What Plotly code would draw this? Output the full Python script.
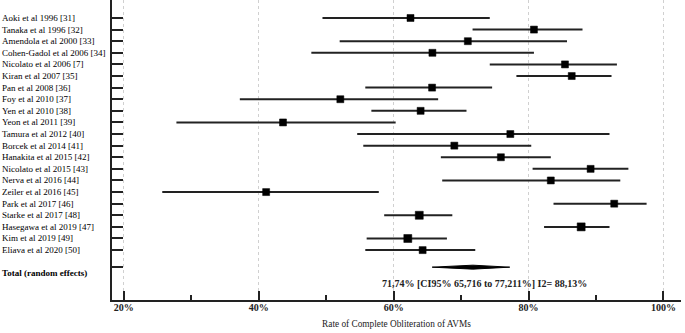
import plotly.graph_objects as go

studies = ["Aoki et al 1996 [31]", "Tanaka et al 1996 [32]", "Amendola et al 2000 [33]",
           "Cohen-Gadol et al 2006 [34]", "Nicolato et al 2006 [7]", "Kiran et al 2007 [35]",
           "Pan et al 2008 [36]", "Foy et al 2010 [37]", "Yen et al 2010 [38]",
           "Yeon et al 2011 [39]", "Tamura et al 2012 [40]", "Borcek et al 2014 [41]",
           "Hanakita et al 2015 [42]", "Nicolato et al 2015 [43]", "Nerva et al 2016 [44]",
           "Zeiler et al 2016 [45]", "Park et al 2017 [46]", "Starke et al 2017 [48]",
           "Hasegawa et al 2019 [47]", "Kim et al 2019 [49]", "Eliava et al 2020 [50]"]
estimate = [62.5, 80.8, 71.0, 65.75, 85.4, 86.4, 65.7, 52.1, 64.0, 43.6, 77.3, 69.0,
            75.9, 89.2, 83.3, 41.1, 92.7, 63.8, 87.8, 62.1, 64.3]
ci_low = [49.45, 71.7, 52.0, 47.8, 74.25, 78.2, 55.8, 37.2, 56.7, 27.8, 54.6, 55.5,
          67.0, 80.6, 67.2, 25.7, 83.7, 58.6, 82.3, 56.0, 55.8]
ci_high = [74.25, 88.0, 85.7, 80.8, 93.1, 92.3, 74.6, 66.6, 70.8, 60.3, 92.0, 80.4,
           83.3, 94.8, 93.6, 57.8, 97.5, 68.7, 92.0, 67.9, 72.1]
pooled = 71.74
pooled_low = 65.716
pooled_high = 77.211
i2 = 88.13
total_label = "Total (random effects)"
summary_text = "71,74% [CI95% 65,716 to 77,211%] I2= 88,13%"
x_ticks = [20, 40, 60, 80, 100]
x_ticklabels = ["20%", "40%", "60%", "80%", "100%"]
x_title = "Rate of Complete Obliteration of AVMs"

FONT = "Liberation Serif"
DARK = "#222222"
n = len(studies)
rows = list(range(n))
total_row = n + 0.47

fig = go.Figure()

# CI lines
xs, ys = [], []
for r, lo, hi in zip(rows, ci_low, ci_high):
    xs += [lo, hi, None]
    ys += [r, r, None]
fig.add_trace(go.Scatter(x=xs, y=ys, mode="lines", line=dict(color=DARK, width=2),
                         hoverinfo="skip", showlegend=False))

sizes = [7] * n
for nm in ["Starke et al 2017 [48]", "Hasegawa et al 2019 [47]", "Kim et al 2019 [49]"]:
    sizes[studies.index(nm)] = 8
fig.add_trace(go.Scatter(x=estimate, y=rows, mode="markers",
                         marker=dict(symbol="square", color="black", size=sizes, opacity=1,
                                     line=dict(width=0.5, color="black")),
                         showlegend=False))

# pooled diamond
h = 0.17
fig.add_trace(go.Scatter(x=[pooled_low, pooled, pooled_high, pooled, pooled_low],
                         y=[total_row, total_row - h, total_row, total_row + h, total_row],
                         mode="lines", fill="toself", fillcolor="black",
                         line=dict(color="black", width=1), showlegend=False))

annotations = []
lab_x = -112 / 569.3
for r, s in zip(rows, studies):
    annotations.append(dict(x=lab_x, y=r, xref="paper", yref="y", text=s, showarrow=False,
                            xanchor="left", yanchor="middle",
                            font=dict(family=FONT, size=9, color="#000")))
annotations.append(dict(x=lab_x, y=total_row + 0.5, xref="paper", yref="y",
                        text="<b>" + total_label + "</b>", showarrow=False,
                        xanchor="left", yanchor="middle",
                        font=dict(family=FONT, size=9, color="#000")))
annotations.append(dict(x=73.4, y=total_row + 1.38, xref="x", yref="y",
                        text="<b>" + summary_text + "</b>", showarrow=False,
                        xanchor="center", yanchor="middle",
                        font=dict(family=FONT, size=10, color="#222")))

fig.update_layout(
    width=685, height=333,
    margin=dict(l=112, r=4, t=0, b=33),
    paper_bgcolor="white", plot_bgcolor="white",
    annotations=annotations,
    xaxis=dict(range=[18.25, 102.6], tickvals=x_ticks, ticktext=["<b>%s</b>" % t for t in x_ticklabels],
               ticks="inside", ticklen=9, tickwidth=2, tickcolor=DARK,
               showline=True, linecolor=DARK, linewidth=2,
               showgrid=True, gridcolor="#d0d0d0", griddash="dot", gridwidth=1,
               zeroline=False, ticklabelstandoff=-3,
               minor=dict(tickvals=[30, 50, 70, 90], ticks="inside", ticklen=5, tickwidth=1.5,
                          tickcolor=DARK, showgrid=False),
               tickfont=dict(family=FONT, size=10, color="#222"),
               title=dict(text=x_title, font=dict(family=FONT, size=9.3, color="#222"), standoff=8)),
    yaxis=dict(range=[24.3, -1.55], tickvals=rows + [total_row], ticktext=[""] * (n + 1),
               ticks="inside", ticklen=11, tickwidth=2, tickcolor=DARK,
               showline=True, linecolor=DARK, linewidth=2, showgrid=False, zeroline=False),
)

fig.write_html("out.html", config={"displayModeBar": False},
               post_script="document.body.style.margin='0px';document.body.style.padding='0px';")
